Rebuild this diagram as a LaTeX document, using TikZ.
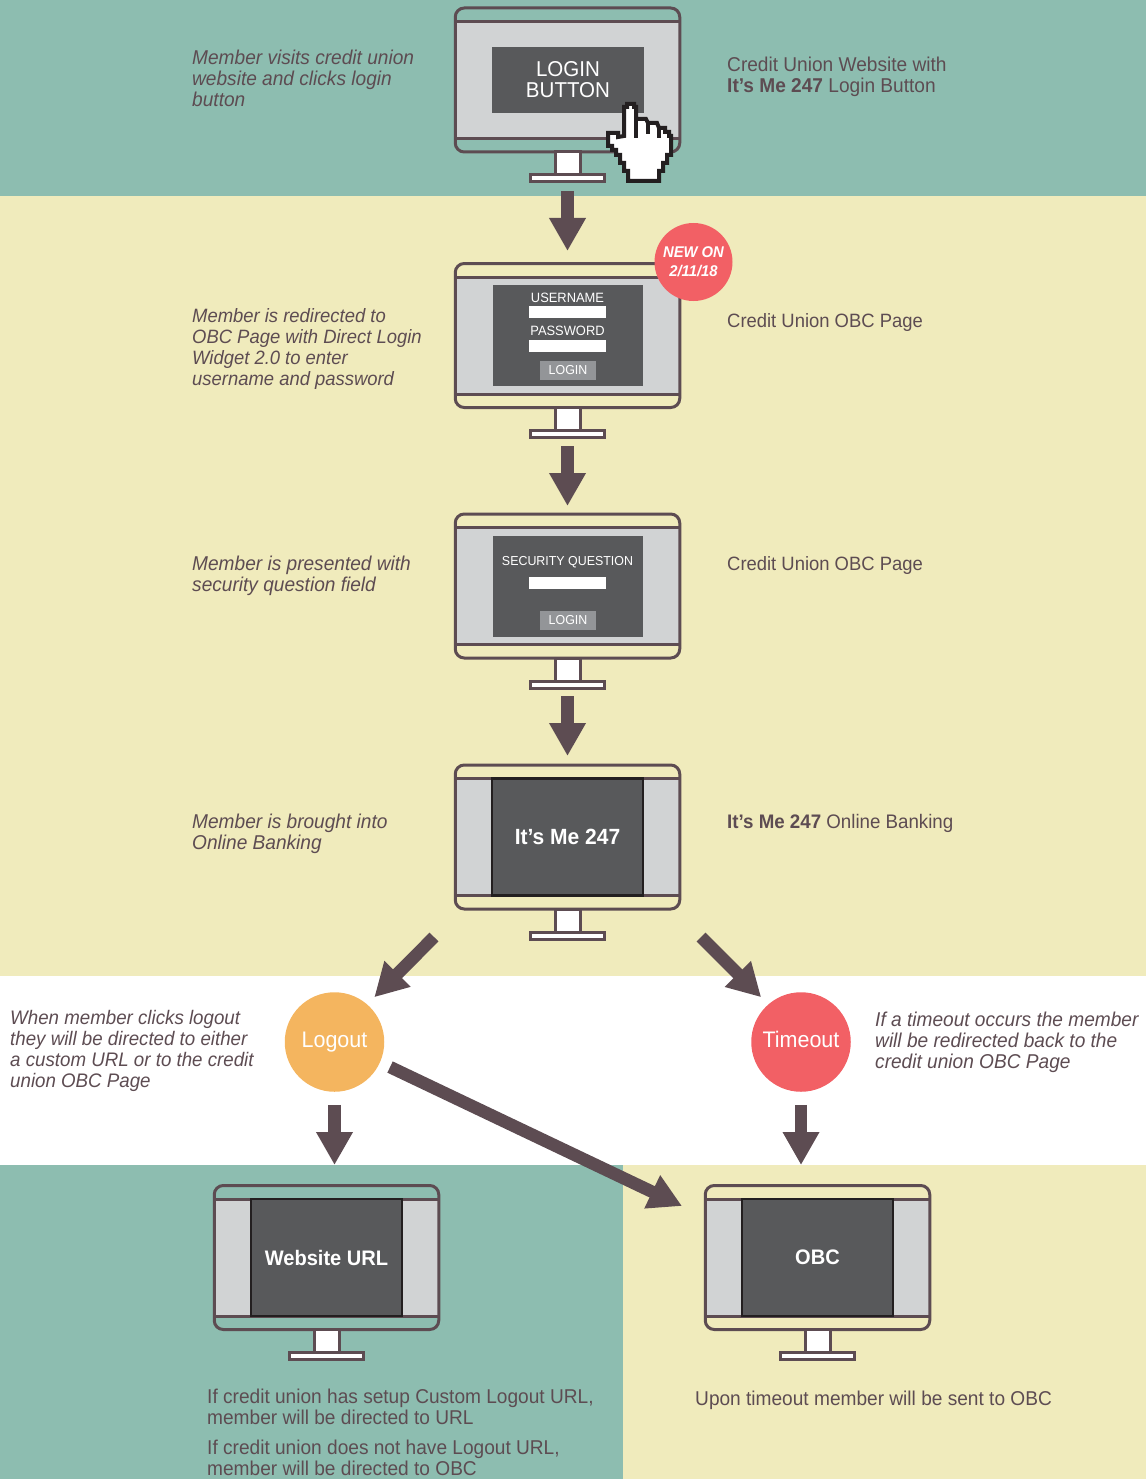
\documentclass[tikz,border=0pt]{standalone}
\usepackage{fontspec}
\setmainfont[FakeStretch=0.955]{Liberation Sans}
\usetikzlibrary{positioning,arrows.meta}

\definecolor{tealbg}{HTML}{8DBDB0}
\definecolor{creambg}{HTML}{F0EBBC}
\definecolor{inkline}{HTML}{5D4C52}
\definecolor{panelgrey}{HTML}{58595B}
\definecolor{screengrey}{HTML}{D1D3D4}
\definecolor{buttongrey}{HTML}{939598}
\definecolor{alertred}{HTML}{F26065}
\definecolor{logoutorange}{HTML}{F4B55F}
\definecolor{panelrim}{HTML}{231F20}

% monitor: name, centre x, centre y
\newcommand{\monitor}[3]{
	\node[screen] (#1scr) at (#2,#3) {};
	\node[case] (#1) at (#2,#3) {};
	\draw[bezel] ([yshift=-13.5pt]#1.north west) -- ([yshift=-13.5pt]#1.north east);
	\draw[bezel] ([yshift=13.5pt]#1.south west) -- ([yshift=13.5pt]#1.south east);
	\node[neck, below=0pt of #1] (#1neck) {};
	\node[foot, below=0pt of #1neck] (#1base) {};
}
\newcommand{\sz}[1]{\fontsize{#1}{#1}\selectfont}

\begin{document}
\begin{tikzpicture}[x=1pt,y=-1pt,
		screen/.style={rectangle, fill=screengrey, minimum width=224pt, minimum height=118pt, inner sep=0, outer sep=0},
		case/.style={rectangle, draw=inkline, line width=3pt, rounded corners=9pt, minimum width=224.5pt, minimum height=144pt, inner sep=0, outer sep=0},
		bezel/.style={draw=inkline, line width=3pt},
		neck/.style={rectangle, draw=inkline, fill=white, line width=3pt, minimum width=25pt, minimum height=23pt, inner sep=0, outer sep=0},
		foot/.style={rectangle, draw=inkline, fill=white, line width=3pt, minimum width=74pt, minimum height=7pt, inner sep=0, outer sep=0},
		panel/.style={rectangle, fill=panelgrey, text=white, align=center, inner sep=0, minimum width=150pt},
		fullpanel/.style={panel, draw=panelrim, line width=2.5pt, minimum width=151pt, minimum height=117pt, font=\sz{22}\bfseries},
		field/.style={rectangle, fill=white, minimum width=77pt, minimum height=12pt, inner sep=0},
		okbutton/.style={rectangle, fill=buttongrey, text=white, minimum width=56pt, minimum height=19pt, inner sep=0, font=\sz{13}},
		caption/.style={text=white, inner sep=0, font=\sz{13.5}},
		note/.style={anchor=north west, text=inkline, align=left, inner sep=0, font=\fontsize{#1}{21}\selectfont\itshape},
		note/.default=20,
		info/.style={anchor=north west, text=inkline, align=left, inner sep=0, font=\fontsize{#1}{21}\selectfont},
		info/.default=20,
		outcome/.style={circle, text=white, minimum size=99.5pt, inner sep=0, text height=16pt, text depth=5pt, font=\sz{22.5}},
		bigarrow/.style={draw=inkline, line width=12.5pt, -{Triangle[width=34.5pt,length=33pt]}},
		pixels/.style={draw=panelrim, line width=4pt, miter limit=10}]

	\useasboundingbox (0,0) rectangle (1146,1479);

	% colour bands
	\fill[tealbg] (0,0) rectangle (1146,196);
	\fill[creambg] (0,196) rectangle (1146,976);
	\fill[tealbg] (0,1165) rectangle (623,1479);
	\fill[creambg] (623,1165) rectangle (1146,1479);

	\monitor{site}{567.5}{80}
	\monitor{obcform}{567.5}{335.5}
	\monitor{question}{567.5}{586}
	\monitor{banking}{567.5}{837}
	\monitor{weburl}{326.5}{1257.5}
	\monitor{obcpage}{817.5}{1257.5}

	% login button screen
	\node[panel, minimum width=152pt, minimum height=66pt, font=\fontsize{21.5}{21}\selectfont] (loginbtn) at (568,80) {LOGIN\\BUTTON};

	% username and password screen
	\node[panel, minimum height=101pt] (formpanel) at (568,335.5) {};
	\node[caption] (userlbl) at (567.5,297.5) {USERNAME};
	\node[field] (userbox) at (567.5,312) {};
	\node[caption] (passlbl) at (567.5,330.5) {PASSWORD};
	\node[field] (passbox) at (567.5,346) {};
	\node[okbutton] (formok) at (568,370) {LOGIN};

	% security question screen
	\node[panel, minimum height=101pt] (questpanel) at (568,586.5) {};
	\node[caption, font=\sz{13}] (questlbl) at (567.5,562.5) {SECURITY QUESTION};
	\node[field] (questbox) at (567.5,583) {};
	\node[okbutton] (questok) at (568,620.5) {LOGIN};

	\node[fullpanel] (bankpanel) at (567.5,837) {It’s Me 247};
	\node[fullpanel, font=\sz{21}\bfseries] (urlpanel) at (326.5,1257.5) {Website URL};
	\node[fullpanel, font=\sz{21}\bfseries] (obcpanel) at (817.5,1257.5) {OBC};

	% badge
	\node[circle, fill=alertred, text=white, minimum size=78pt, inner sep=0, align=center, font=\fontsize{15.5}{19}\selectfont\bfseries\itshape] (badge) at (693.5,262) {NEW ON\\2/11/18};

	% pointer
	\filldraw[pixels, fill=white] (624,136) -- (624,107) -- (627,107) -- (627,104) -- (634,104) -- (634,107) -- (636,107) -- (636,119) -- (646,119) -- (648,123) -- (657,123) -- (659,128) -- (665,128) -- (665,132) -- (669,132) -- (669,136) -- (671,136) -- (671,155) -- (667,155) -- (667,163) -- (663,163) -- (663,171) -- (659,171) -- (659,181) -- (628,181) -- (628,171) -- (624,171) -- (624,163) -- (620,163) -- (620,155) -- (616,155) -- (616,150) -- (612,150) -- (612,146) -- (608,146) -- (608,133) -- (618,133) -- (618,137) -- cycle;
	\draw[pixels] (636,119) -- (636,138);
	\draw[pixels] (648,123) -- (648,134);
	\draw[pixels] (659,128) -- (659,138);

	% outcomes
	\node[outcome, fill=logoutorange] (logout) at (334.5,1042) {Logout};
	\node[outcome, fill=alertred] (timeout) at (801,1042) {Timeout};

	% left notes
	\node[note] (note1) at (192,49.5) {Member visits credit union\\website and clicks login\\button};
	\node[note=19.3] (note2) at (192,308) {Member is redirected to\\OBC Page with Direct Login\\Widget 2.0 to enter\\username and password};
	\node[note] (note3) at (192,555.5) {Member is presented with\\security question field};
	\node[note] (note4) at (192,813.5) {Member is brought into\\Online Banking};
	\node[note=19.6] (note5) at (10,1010) {When member clicks logout\\they will be directed to either\\a custom URL or to the credit\\union OBC Page};
	\node[note] (note6) at (875,1011.5) {If a timeout occurs the member\\will be redirected back to the\\credit union OBC Page};

	% right labels
	\node[info] (info1) at (727,56.5) {Credit Union Website with\\\textbf{It’s Me 247} Login Button};
	\node[info=19.3] (info2) at (727,313) {Credit Union OBC Page};
	\node[info=19.3] (info3) at (727,556) {Credit Union OBC Page};
	\node[info=19.6] (info4) at (727,814) {\textbf{It’s Me 247} Online Banking};
	\node[info] (info5) at (207,1388.5) {If credit union has setup Custom Logout URL,\\member will be directed to URL};
	\node[info] (info6) at (207,1439.5) {If credit union does not have Logout URL,\\member will be directed to OBC};
	\node[info] (info7) at (695,1390.5) {Upon timeout member will be sent to OBC};

	\coordinate (leftout) at (434,937);
	\coordinate (rightout) at (701,937);
	\coordinate (obcentry) at (682,1206);

	\draw[bigarrow, shorten <=9pt, shorten >=12.5pt] (sitebase.south) -- (obcform.north);
	\draw[bigarrow, shorten <=8.5pt, shorten >=8pt] (obcformbase.south) -- (question.north);
	\draw[bigarrow, shorten <=8pt, shorten >=9pt] (questionbase.south) -- (banking.north);
	\draw[bigarrow, shorten >=10pt] (leftout) -- (logout.49);
	\draw[bigarrow, shorten >=10pt] (rightout) -- (timeout.131);
	\draw[bigarrow, shorten <=13pt, shorten >=20.5pt] (logout.south) -- (logout.south |- weburl.north);
	\draw[bigarrow, shorten <=13pt, shorten >=20.5pt] (timeout.south) -- (timeout.south |- obcpage.north);
	\draw[bigarrow, shorten <=11pt] (logout.-24) -- (obcentry);
\end{tikzpicture}
\end{document}
